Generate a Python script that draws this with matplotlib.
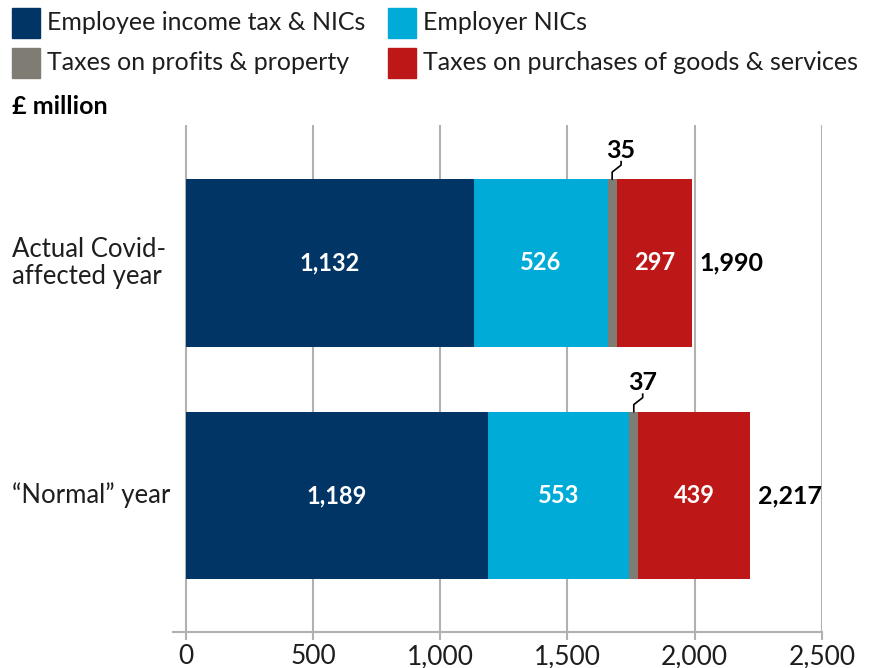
import matplotlib
matplotlib.use("Agg")
import matplotlib.pyplot as plt
from matplotlib.patches import Rectangle

plt.rcParams['font.family'] = ['Lato', 'DejaVu Sans']

# tax take, £ million
years = ['Actual Covid-\naffected year', '\u201cNormal\u201d year']
employee = [1132, 1189]
employer = [526, 553]
profits = [35, 37]
purchases = [297, 439]
totals = ['1,990', '2,217']

series = [
    ('Employee income tax & NICs', employee, '#003566', True),
    ('Employer NICs', employer, '#00ABD7', True),
    ('Taxes on profits & property', profits, '#7F7C74', False),
    ('Taxes on purchases of goods & services', purchases, '#BD1718', True),
]

fig = plt.figure(figsize=(8.71, 6.68), dpi=100)
ax = fig.add_axes([173 / 871, 1 - 632 / 668, (822 - 173) / 871, 507 / 668])

ypos = [0, 1]
bar_h = 0.722
grid_col = '#B3B1AD'
text_col = '#1e1e1e'

left = [0, 0]
for name, vals, col, show in series:
    ax.barh(ypos, vals, left=left, height=bar_h, color=col, zorder=3)
    for i, v in enumerate(vals):
        if show:
            ax.text(left[i] + v / 2, ypos[i], f'{v:,}', ha='center', va='center',
                    color='white', fontsize=17, fontweight='bold', zorder=4)
        else:
            # small segment: label above with a kinked leader line
            xc = left[i] + v / 2
            top = ypos[i] - bar_h / 2
            ax.plot([xc, xc, xc + 35, xc + 35], [top, top - 0.03, top - 0.06, top - 0.075],
                    color='black', lw=1.2, zorder=4, clip_on=False)
            ax.text(xc + 35, top - 0.075, f'{v:,}', ha='center', va='bottom',
                    color='black', fontsize=18, fontweight='bold')
    left = [l + v for l, v in zip(left, vals)]

for i, t in enumerate(totals):
    ax.text(left[i] + 30, ypos[i], t, ha='left', va='center', color='black',
            fontsize=18, fontweight='bold')

ax.set_xlim(-50, 2500)
ax.set_ylim(1.587, -0.5935)
ax.set_xticks([0, 500, 1000, 1500, 2000, 2500])
ax.set_xticklabels(['0', '500', '1,000', '1,500', '2,000', '2,500'])
ax.set_yticks([])
for s in ['top', 'right', 'left']:
    ax.spines[s].set_visible(False)
ax.spines['bottom'].set_color(grid_col)
ax.spines['bottom'].set_linewidth(1.5)
ax.tick_params(axis='x', length=6, width=1.5, color=grid_col, pad=3,
               labelsize=19, labelcolor=text_col)
ax.grid(axis='x', color=grid_col, lw=1.5, zorder=0)

for i, name in enumerate(years):
    fig.text(12 / 871, 1 - (263 + i * 232.5) / 668, name, ha='left', va='center',
             fontsize=18.5, color=text_col, linespacing=1.1)

# legend
legend_pos = [(12, 8), (388, 8), (12, 48), (388, 48)]
for (name, vals, col, show), (px, py) in zip(series, legend_pos):
    fig.add_artist(Rectangle((px / 871, 1 - (py + 30) / 668), 28 / 871, 30 / 668,
                             color=col, transform=fig.transFigure))
    fig.text((px + 35) / 871, 1 - (py + 15) / 668, name, ha='left', va='center',
             fontsize=18, color=text_col)

fig.text(12 / 871, 1 - 106 / 668, '\u00a3 million', ha='left', va='center',
         fontsize=18, fontweight='bold', color='black')

fig.savefig('out.png', dpi=100)
